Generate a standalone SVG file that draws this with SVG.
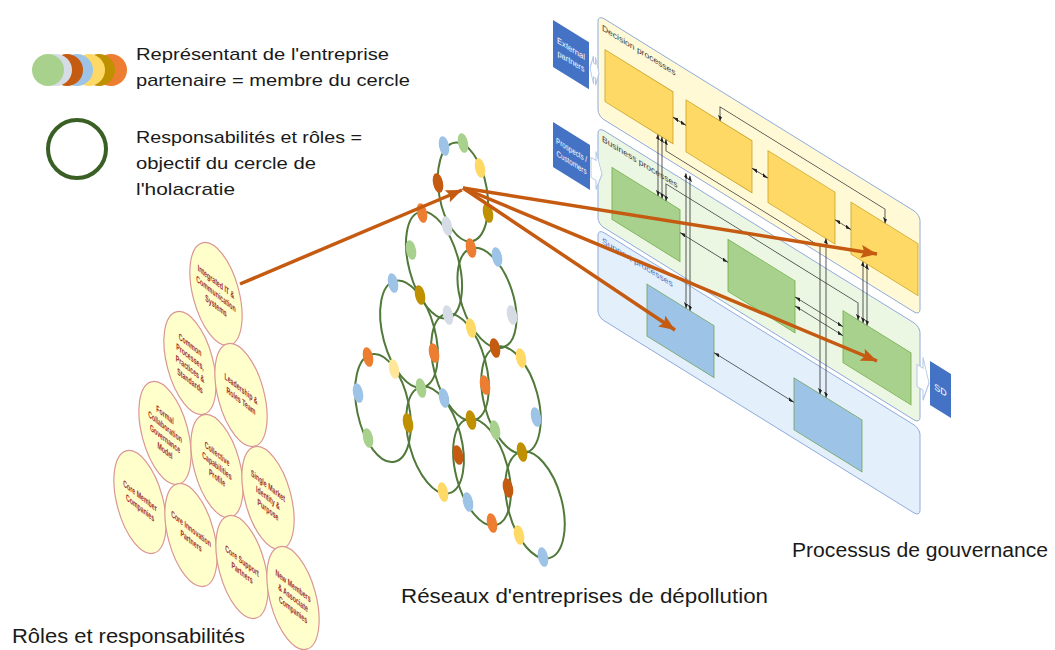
<svg xmlns="http://www.w3.org/2000/svg" width="1055" height="650" viewBox="0 0 1055 650">
<defs>
<marker id="oa" markerUnits="userSpaceOnUse" markerWidth="17" markerHeight="14" refX="16" refY="6.5" orient="auto"><path d="M0,0 L16,6.5 L0,13 L3,6.5 z" fill="#C55A11"/></marker>
<marker id="sa" markerUnits="userSpaceOnUse" markerWidth="5" markerHeight="4" refX="5" refY="2" orient="auto-start-reverse"><path d="M0,0 L5,2 L0,4 z" fill="#222"/></marker>
</defs>
<style>
.t{font-family:"Liberation Sans",Arial,sans-serif;fill:#1a1a1a}
.leg{font-size:17px}
.lab{font-size:20px}
.role ellipse{fill:#FFFFCC;stroke:#DA9694;stroke-width:1.2}
.role text{font-family:"Liberation Sans",Arial,sans-serif;font-size:9.5px;font-weight:bold;fill:#A02C2A;text-anchor:middle}
.ring{fill:none;stroke:#50793A;stroke-width:2}
.c1{fill:#9DC3E6}.c2{fill:#A9D18E}.c3{fill:#FFD966}.c4{fill:#C55A11}.c5{fill:#BF9000}.c6{fill:#ED7D31}.c7{fill:#D6DCE5}.c8{fill:#FFE699}
.pan{stroke:#8FAADC;stroke-width:1}
.dbx{fill:#FFD966;stroke:#C9A227;stroke-width:0.8}
.gbx{fill:#A9D18E;stroke:#70AD47;stroke-width:0.8}
.bbx{fill:#9DC3E6;stroke:#6FA057;stroke-width:0.8}
.side{fill:#4472C4}
.stx{font-family:"Liberation Sans",Arial,sans-serif;fill:#fff;text-anchor:middle}
.ptx{font-family:"Liberation Sans",Arial,sans-serif;font-size:8.5px}
.ba{fill:#fff;stroke:#B4C7E7;stroke-width:1}
.ln{fill:none;stroke:#333;stroke-width:0.8;marker-end:url(#sa);marker-start:url(#sa)}
.arr{fill:none;stroke:#C55A11;stroke-width:3.5;marker-end:url(#oa)}
</style>
<rect width="1055" height="650" fill="#fff"/>

<g id="legend">
  <g id="legend-members">
    <circle cx="111" cy="70" r="16" class="c6"/>
    <circle cx="99" cy="70" r="16" class="c5"/>
    <circle cx="89" cy="70" r="16" class="c3"/>
    <circle cx="77" cy="70" r="16" class="c1"/>
    <circle cx="67" cy="70" r="16" class="c4"/>
    <circle cx="56" cy="70" r="16" class="c7"/>
    <circle cx="48" cy="70" r="16" class="c2"/>
    <text class="t leg" x="136" y="60" textLength="253" lengthAdjust="spacingAndGlyphs">Représentant de l'entreprise</text>
    <text class="t leg" x="136" y="86" textLength="274" lengthAdjust="spacingAndGlyphs">partenaire = membre du cercle</text>
  </g>
  <g id="legend-roles">
    <circle cx="77" cy="149" r="29" fill="none" stroke="#3A5F24" stroke-width="4"/>
    <text class="t leg" x="136" y="143" textLength="226" lengthAdjust="spacingAndGlyphs">Responsabilités et rôles =</text>
    <text class="t leg" x="136" y="169" textLength="180" lengthAdjust="spacingAndGlyphs">objectif du cercle de</text>
    <text class="t leg" x="136" y="195" textLength="99" lengthAdjust="spacingAndGlyphs">l'holacratie</text>
  </g>
</g>

<g id="roles">
  <g class="role" id="role-it">
    <ellipse cx="216" cy="294" rx="23" ry="53" transform="rotate(-15 216 294)"/>
    <g transform="translate(216,294) skewY(38) scale(0.55,1)"><text y="-9">Integrated IT &amp;</text><text y="3">Communication</text><text y="15">Systems</text></g>
  </g>
  <g class="role" id="role-common">
    <ellipse cx="190" cy="363" rx="23" ry="53" transform="rotate(-15 190 363)"/>
    <g transform="translate(190,363) skewY(38) scale(0.55,1)"><text y="-15">Common</text><text y="-3">Processes,</text><text y="9">Practices &amp;</text><text y="21">Standards</text></g>
  </g>
  <g class="role" id="role-leadership">
    <ellipse cx="241" cy="395" rx="23" ry="53" transform="rotate(-15 241 395)"/>
    <g transform="translate(241,395) skewY(38) scale(0.55,1)"><text y="-3">Leadership &amp;</text><text y="9">Roles Team</text></g>
  </g>
  <g class="role" id="role-formal">
    <ellipse cx="165" cy="433" rx="23" ry="53" transform="rotate(-15 165 433)"/>
    <g transform="translate(165,433) skewY(38) scale(0.55,1)"><text y="-15">Formal</text><text y="-3">Collaboration</text><text y="9">Governance</text><text y="21">Model</text></g>
  </g>
  <g class="role" id="role-collective">
    <ellipse cx="217" cy="466" rx="23" ry="53" transform="rotate(-15 217 466)"/>
    <g transform="translate(217,466) skewY(38) scale(0.55,1)"><text y="-9">Collective</text><text y="3">Capabilities</text><text y="15">Profile</text></g>
  </g>
  <g class="role" id="role-single">
    <ellipse cx="268" cy="498" rx="23" ry="53" transform="rotate(-15 268 498)"/>
    <g transform="translate(268,498) skewY(38) scale(0.55,1)"><text y="-9">Single Market</text><text y="3">Identity &amp;</text><text y="15">Purpose</text></g>
  </g>
  <g class="role" id="role-core-member">
    <ellipse cx="140" cy="502" rx="23" ry="53" transform="rotate(-15 140 502)"/>
    <g transform="translate(140,502) skewY(38) scale(0.55,1)"><text y="-3">Core Member</text><text y="9">Companies</text></g>
  </g>
  <g class="role" id="role-core-innovation">
    <ellipse cx="191" cy="535" rx="23" ry="53" transform="rotate(-15 191 535)"/>
    <g transform="translate(191,535) skewY(38) scale(0.55,1)"><text y="-3">Core Innovation</text><text y="9">Partners</text></g>
  </g>
  <g class="role" id="role-core-support">
    <ellipse cx="242" cy="567" rx="23" ry="53" transform="rotate(-15 242 567)"/>
    <g transform="translate(242,567) skewY(38) scale(0.55,1)"><text y="-3">Core Support</text><text y="9">Partners</text></g>
  </g>
  <g class="role" id="role-new">
    <ellipse cx="293" cy="598" rx="23" ry="53" transform="rotate(-15 293 598)"/>
    <g transform="translate(293,598) skewY(38) scale(0.55,1)"><text y="-9">New Members</text><text y="3">&amp; Associate</text><text y="15">Companies</text></g>
  </g>
</g>

<g id="network">
  <ellipse class="ring" cx="463" cy="192" rx="24" ry="50" transform="rotate(-10 463 192)"/>
  <ellipse class="ring" cx="434" cy="265" rx="25" ry="55" transform="rotate(-15 434 265)"/>
  <ellipse class="ring" cx="487" cy="298" rx="26" ry="52" transform="rotate(-18 487 298)"/>
  <ellipse class="ring" cx="409" cy="334" rx="26" ry="55" transform="rotate(-15 409 334)"/>
  <ellipse class="ring" cx="460" cy="367" rx="26" ry="55" transform="rotate(-15 460 367)"/>
  <ellipse class="ring" cx="511" cy="400" rx="27" ry="55" transform="rotate(-15 511 400)"/>
  <ellipse class="ring" cx="383" cy="408" rx="26" ry="55" transform="rotate(-12 383 408)"/>
  <ellipse class="ring" cx="435" cy="440" rx="26" ry="55" transform="rotate(-15 435 440)"/>
  <ellipse class="ring" cx="482" cy="472" rx="26" ry="55" transform="rotate(-15 482 472)"/>
  <ellipse class="ring" cx="535" cy="505" rx="27" ry="55" transform="rotate(-15 535 505)"/>
  <g id="members">
    <ellipse class="c1" cx="444" cy="146" rx="5" ry="10" transform="rotate(-12 444 146)"/>
    <ellipse class="c2" cx="463" cy="143" rx="5" ry="10" transform="rotate(-12 463 143)"/>
    <ellipse class="c3" cx="480" cy="168" rx="5" ry="10" transform="rotate(-12 480 168)"/>
    <ellipse class="c4" cx="438" cy="183" rx="5" ry="10" transform="rotate(-12 438 183)"/>
    <ellipse class="c5" cx="488" cy="213" rx="5" ry="10" transform="rotate(-12 488 213)"/>
    <ellipse class="c6" cx="422" cy="213" rx="5" ry="10" transform="rotate(-12 422 213)"/>
    <ellipse class="c7" cx="447" cy="226" rx="5" ry="10" transform="rotate(-12 447 226)"/>
    <ellipse class="c6" cx="471" cy="248" rx="5" ry="10" transform="rotate(-12 471 248)"/>
    <ellipse class="c1" cx="497" cy="257" rx="5" ry="10" transform="rotate(-12 497 257)"/>
    <ellipse class="c2" cx="411" cy="250" rx="5" ry="10" transform="rotate(-12 411 250)"/>
    <ellipse class="c1" cx="393" cy="283" rx="5" ry="10" transform="rotate(-12 393 283)"/>
    <ellipse class="c5" cx="420" cy="295" rx="5" ry="10" transform="rotate(-12 420 295)"/>
    <ellipse class="c7" cx="448" cy="315" rx="5" ry="10" transform="rotate(-12 448 315)"/>
    <ellipse class="c7" cx="512" cy="315" rx="5" ry="10" transform="rotate(-12 512 315)"/>
    <ellipse class="c3" cx="471" cy="328" rx="5" ry="10" transform="rotate(-12 471 328)"/>
    <ellipse class="c4" cx="495" cy="348" rx="5" ry="10" transform="rotate(-12 495 348)"/>
    <ellipse class="c3" cx="521" cy="358" rx="5" ry="10" transform="rotate(-12 521 358)"/>
    <ellipse class="c6" cx="434" cy="353" rx="5" ry="10" transform="rotate(-12 434 353)"/>
    <ellipse class="c6" cx="368" cy="357" rx="5" ry="10" transform="rotate(-12 368 357)"/>
    <ellipse class="c8" cx="394" cy="369" rx="5" ry="10" transform="rotate(-12 394 369)"/>
    <ellipse class="c2" cx="421" cy="388" rx="5" ry="10" transform="rotate(-12 421 388)"/>
    <ellipse class="c1" cx="444" cy="398" rx="5" ry="10" transform="rotate(-12 444 398)"/>
    <ellipse class="c6" cx="485" cy="385" rx="5" ry="10" transform="rotate(-12 485 385)"/>
    <ellipse class="c1" cx="358" cy="393" rx="5" ry="10" transform="rotate(-12 358 393)"/>
    <ellipse class="c5" cx="471" cy="420" rx="5" ry="10" transform="rotate(-12 471 420)"/>
    <ellipse class="c2" cx="495" cy="430" rx="5" ry="10" transform="rotate(-12 495 430)"/>
    <ellipse class="c1" cx="536" cy="417" rx="5" ry="10" transform="rotate(-12 536 417)"/>
    <ellipse class="c5" cx="408" cy="423" rx="5" ry="10" transform="rotate(-12 408 423)"/>
    <ellipse class="c2" cx="368" cy="438" rx="5" ry="10" transform="rotate(-12 368 438)"/>
    <ellipse class="c5" cx="522" cy="452" rx="5" ry="10" transform="rotate(-12 522 452)"/>
    <ellipse class="c4" cx="458" cy="455" rx="5" ry="10" transform="rotate(-12 458 455)"/>
    <ellipse class="c4" cx="508" cy="488" rx="5" ry="10" transform="rotate(-12 508 488)"/>
    <ellipse class="c3" cx="443" cy="492" rx="5" ry="10" transform="rotate(-12 443 492)"/>
    <ellipse class="c1" cx="468" cy="502" rx="5" ry="10" transform="rotate(-12 468 502)"/>
    <ellipse class="c6" cx="492" cy="523" rx="5" ry="10" transform="rotate(-12 492 523)"/>
    <ellipse class="c3" cx="519" cy="535" rx="5" ry="10" transform="rotate(-12 519 535)"/>
    <ellipse class="c1" cx="543" cy="557" rx="5" ry="10" transform="rotate(-12 543 557)"/>
  </g>
</g>

<g id="governance" transform="matrix(1 0.62 0 1 0 0)">
  <g id="decision-panel">
    <rect class="pan" x="598" y="-355.8" width="322" height="101" rx="6" fill="#FFF9D6" vector-effect="non-scaling-stroke"/>
    <text class="ptx" x="602" y="-343" fill="#404040">Decision processes</text>
  </g>
  <g id="business-panel">
    <rect class="pan" x="598" y="-243.8" width="322" height="97" rx="6" fill="#EBF6E3" vector-effect="non-scaling-stroke"/>
    <text class="ptx" x="602" y="-232" fill="#404040">Business processes</text>
  </g>
  <g id="support-panel">
    <rect class="pan" x="598" y="-141.8" width="322" height="88" rx="6" fill="#E3F0FB" vector-effect="non-scaling-stroke"/>
    <text class="ptx" x="602" y="-130" fill="#4472C4">Support processes</text>
  </g>
  <g id="d1"><rect class="dbx" x="605" y="-325.5" width="68" height="52"/></g>
  <g id="d2"><rect class="dbx" x="686" y="-325.5" width="66" height="52"/></g>
  <g id="d3"><rect class="dbx" x="768" y="-325.5" width="67" height="52"/></g>
  <g id="d4"><rect class="dbx" x="851" y="-325.5" width="67" height="52"/></g>
  <g id="g1"><rect class="gbx" x="612" y="-212" width="68" height="52"/></g>
  <g id="g2"><rect class="gbx" x="728" y="-212" width="67" height="52"/></g>
  <g id="g3"><rect class="gbx" x="843" y="-212" width="68" height="52"/></g>
  <g id="b1"><rect class="bbx" x="647" y="-117" width="67" height="52"/></g>
  <g id="b2"><rect class="bbx" x="794" y="-114.5" width="68" height="52"/></g>
  <g id="external-partners">
    <rect class="side" x="553" y="-322.9" width="36" height="47"/>
    <text class="stx" x="571" y="-302.5" font-size="8.5" textLength="28" lengthAdjust="spacingAndGlyphs">External</text>
    <text class="stx" x="571" y="-290" font-size="8.5" textLength="27" lengthAdjust="spacingAndGlyphs">partners</text>
    <path class="ba" d="M590,-298 L593.5,-312 L593.5,-305 L595.5,-305 L595.5,-312 L599,-298 L595.5,-284 L595.5,-291 L593.5,-291 L593.5,-284 Z"/>
  </g>
  <g id="prospects">
    <rect class="side" x="553" y="-220.9" width="37" height="45"/>
    <text class="stx" x="571.5" y="-201.5" font-size="8.5" textLength="31" lengthAdjust="spacingAndGlyphs">Prospects /</text>
    <text class="stx" x="571.5" y="-189" font-size="8.5" textLength="30" lengthAdjust="spacingAndGlyphs">Customers</text>
    <path class="ba" d="M591,-209 L596,-209 L596,-218 L602,-199 L596,-180 L596,-189 L591,-189 Z"/>
  </g>
  <g id="sd">
    <path class="ba" d="M917,-204 L923,-204 L923,-215 L929,-193 L923,-172 L923,-182 L917,-182 Z"/>
    <rect class="side" x="930" y="-215.6" width="21" height="44"/>
    <text class="stx" x="940.5" y="-190" font-size="9">SD</text>
  </g>
  <g id="process-links">
    <path class="ln" d="M673,-300 H686"/>
    <path class="ln" d="M752,-298 H768"/>
    <path class="ln" d="M835,-298 H851"/>
    <path class="ln" d="M720,-325.5 V-339.5 H885 V-325.5"/>
    <path class="ln" d="M658,-273.5 V-212"/>
    <path class="ln" d="M662,-273.5 V-212"/>
    <path class="ln" d="M666,-273.5 V-262 H820 V-114.5"/>
    <path class="ln" d="M826,-273.5 V-114.5"/>
    <path class="ln" d="M666,-212 V-229 H858 V-212"/>
    <path class="ln" d="M686,-252 V-117"/>
    <path class="ln" d="M690,-252 V-117"/>
    <path class="ln" d="M863,-273.5 V-212"/>
    <path class="ln" d="M867,-273.5 V-212"/>
    <path class="ln" d="M680,-189 H728"/>
    <path class="ln" d="M795,-196 H843"/>
    <path class="ln" d="M795,-187 H843"/>
    <path class="ln" d="M714,-90 H794"/>
  </g>
</g>

<g id="connectors">
  <path class="arr" d="M240,284 L462,190"/>
  <path class="arr" d="M463,188 L877,254"/>
  <path class="arr" d="M463,188 L675,330"/>
  <path class="arr" d="M463,188 L877,361"/>
</g>

<g id="labels">
  <text class="t lab" x="12" y="643" textLength="233" lengthAdjust="spacingAndGlyphs">Rôles et responsabilités</text>
  <text class="t lab" x="401" y="603" textLength="367" lengthAdjust="spacingAndGlyphs">Réseaux d'entreprises de dépollution</text>
  <text class="t lab" x="792" y="557" textLength="256" lengthAdjust="spacingAndGlyphs">Processus de gouvernance</text>
</g>
</svg>
